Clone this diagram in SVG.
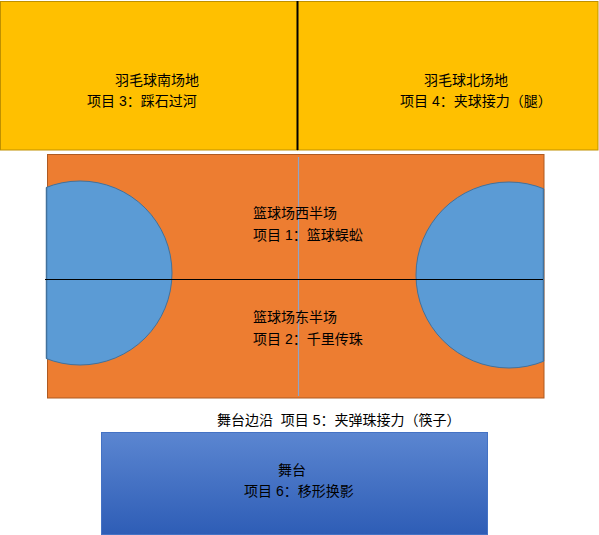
<svg xmlns="http://www.w3.org/2000/svg" width="599" height="535" viewBox="0 0 599 535">
<defs>
<linearGradient id="stageGrad" x1="0" y1="0" x2="0" y2="1">
<stop offset="0" stop-color="#5B86D1"/>
<stop offset="1" stop-color="#2E5DB6"/>
</linearGradient>
<clipPath id="leftCut"><rect x="46" y="150" width="200" height="250"/></clipPath>
<clipPath id="rightCut"><rect x="350" y="150" width="194" height="250"/></clipPath>
</defs>
<style>
text{font-family:"Liberation Sans","Noto Sans CJK SC",sans-serif;font-size:14px;fill:#000}
.court{fill:#FFC000;stroke:#BF9000;stroke-width:1}
.circle{fill:#5B9BD5;stroke:#41719C;stroke-width:1}
</style>
<rect width="599" height="535" fill="#FFFFFF"/>
<g id="badminton-south">
<rect class="court" x="0.5" y="1.5" width="297" height="148.5"/>
<text x="115" y="85">羽毛球南场地</text>
<text x="87" y="106">项目 3：踩石过河</text>
</g>
<g id="badminton-north">
<rect class="court" x="297.5" y="1.5" width="300.5" height="148.5"/>
<text x="424" y="85">羽毛球北场地</text>
<text x="400" y="106">项目 4：夹球接力（腿）</text>
</g>
<g id="basketball">
<rect x="47.5" y="154.5" width="496.5" height="243.5" fill="#ED7D31" stroke="#AE5A21" stroke-width="1"/>
<g clip-path="url(#leftCut)"><circle class="circle" cx="80" cy="273" r="92"/></g>
<path d="M46.5 187.5 V358.5" stroke="#41719C" stroke-width="1.5"/>
<g clip-path="url(#rightCut)"><circle class="circle" cx="509" cy="275" r="93"/></g>
<path d="M543.5 189 V361" stroke="#41719C" stroke-width="1.5"/>
</g>
<g id="connectors">
<line x1="297.5" y1="1" x2="297.5" y2="150" stroke="#000" stroke-width="2"/>
<line x1="298.5" y1="157" x2="298.5" y2="396" stroke="#8EA4C8" stroke-width="1.2"/>
<line x1="45" y1="279.5" x2="543" y2="279.5" stroke="#000" stroke-width="1"/>
</g>
<g id="west-half">
<text x="253" y="218">篮球场西半场</text>
<text x="253" y="239.5">项目 1：篮球蜈蚣</text>
</g>
<g id="east-half">
<text x="253" y="322">篮球场东半场</text>
<text x="253" y="343.5">项目 2：千里传珠</text>
</g>
<g id="stage-edge">
<text x="217" y="424.5" xml:space="preserve">舞台边沿  项目 5：夹弹珠接力（筷子）</text>
</g>
<g id="stage">
<rect x="101.5" y="432.5" width="386" height="102" fill="url(#stageGrad)" stroke="#4472C4" stroke-width="1"/>
<text x="278" y="475">舞台</text>
<text x="244" y="495.5">项目 6：移形换影</text>
</g>
</svg>
